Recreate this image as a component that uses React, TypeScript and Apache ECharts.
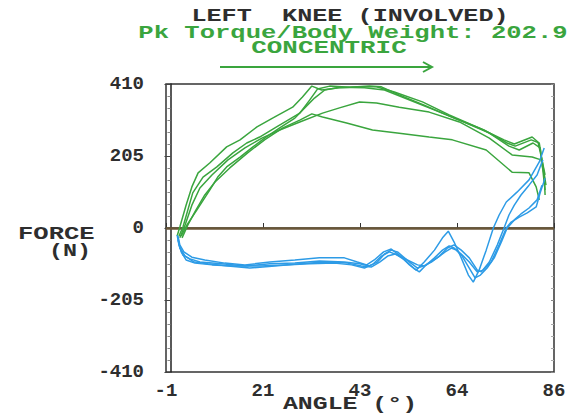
import React, { useEffect, useRef } from "react";
import * as echarts from "echarts";

// ---- axes ----
const angleMin = -1;
const angleMax = 86;
const angleTickLabels = [-1, 21, 43, 64, 86];
const forceMin = -410;
const forceMax = 410;
const forceStep = 205;

// ---- texts ----
const titleLine = "LEFT  KNEE (INVOLVED)";
const peakLine = "Pk Torque/Body Weight: 202.9";
const modeLine = "CONCENTRIC";
const yName1 = "FORCE";
const yName2 = "(N)";
const xName = "ANGLE (°)";

// ---- concentric (positive) force curves: [angle, force] ----
const ext1 = [[1.5,-23],[2.1,3],[3.5,65],[4.8,117],[6.2,157],[8.8,185],[12.6,231],[15.6,251],[19.4,288],[22.9,313],[27.4,344],[29.6,373],[31.7,404],[33.9,393],[37.9,399],[42.4,402],[46.2,402],[50.2,387],[56.5,359],[62.5,322],[69.2,285],[74.8,251],[77.1,239],[81.1,259],[82.4,245],[83.3,194],[84.0,151]];
const ext2 = [[1.9,-23],[2.8,3],[5.0,100],[7.3,145],[10.4,174],[14.0,214],[17.1,242],[20.0,259],[23.8,288],[29.0,327],[31.2,364],[33.0,396],[35.7,404],[40.2,401],[44.6,404],[47.3,402],[51.3,379],[56.9,350],[63.6,313],[70.3,279],[75.5,242],[77.3,233],[80.9,251],[82.7,242],[83.5,179],[84.2,122]];
const ext3 = [[2.4,-23],[3.7,9],[5.9,51],[8.8,108],[10.6,145],[12.6,174],[15.6,202],[18.5,231],[21.1,256],[24.5,285],[27.9,313],[30.1,342],[32.3,370],[34.6,393],[37.9,401],[43.5,399],[48.0,393],[52.5,370],[58.0,342],[64.8,307],[71.5,270],[75.9,233],[78.2,222],[81.3,242],[82.9,228],[83.5,165],[84.0,108]];
const ext4 = [[2.1,-28],[3.3,9],[4.8,65],[6.6,114],[9.3,151],[12.9,194],[16.7,228],[20.5,256],[24.5,279],[29.0,302],[34.1,327],[37.9,342],[42.4,359],[46.2,356],[51.3,344],[58.0,330],[64.8,302],[71.5,256],[76.6,208],[81.1,202],[83.1,194],[83.8,151],[84.0,94]];
const ext5 = [[2.6,-28],[3.9,9],[5.7,51],[7.7,94],[10.0,131],[13.3,171],[17.3,214],[21.1,251],[25.2,285],[29.0,307],[31.7,325],[34.1,316],[39.5,299],[45.3,279],[51.3,270],[58.0,259],[63.2,251],[70.8,222],[76.6,159],[80.4,157],[82.0,117],[82.7,80]];

// ---- return (negative) force curves: [angle, force] ----
const ret1 = [[83.8,228],[82.7,188],[80.4,137],[77.7,102],[75.3,74],[73.7,37],[72.4,0],[70.8,-63],[69.2,-120],[67.9,-154],[66.8,-134],[65.2,-85],[63.6,-40],[62.3,-9],[61.0,-28],[59.2,-63],[56.9,-97],[55.1,-120],[53.6,-105],[51.3,-77],[49.5,-60],[47.8,-68],[45.7,-91],[44.0,-105],[41.9,-97],[39.0,-85],[33.4,-85],[27.9,-91],[22.3,-97],[16.7,-105],[12.2,-100],[7.7,-91],[4.8,-83],[3.0,-68],[2.1,-48],[1.7,-23]];
const ret2 = [[84.0,142],[82.9,100],[82.0,60],[80.0,43],[78.2,31],[76.4,17],[75.3,0],[73.7,-48],[71.9,-97],[70.1,-120],[68.8,-125],[67.0,-97],[65.2,-74],[63.6,-57],[62.5,-51],[61.0,-63],[59.2,-85],[57.4,-105],[55.4,-114],[53.6,-97],[50.9,-68],[49.5,-63],[48.0,-74],[46.4,-97],[44.6,-108],[42.4,-102],[39.0,-97],[33.4,-94],[27.9,-100],[22.3,-102],[16.7,-108],[11.5,-102],[6.6,-97],[4.4,-88],[2.8,-77],[1.9,-48],[1.5,-20]];
const ret3 = [[83.5,194],[82.2,151],[80.4,122],[78.6,94],[77.1,65],[75.9,37],[74.8,0],[73.3,-48],[71.5,-97],[69.7,-125],[68.8,-120],[67.0,-85],[65.2,-63],[63.6,-48],[62.1,-57],[60.3,-80],[58.5,-97],[56.9,-108],[55.4,-105],[53.1,-91],[50.9,-77],[49.1,-68],[47.3,-80],[45.5,-102],[43.5,-114],[40.6,-105],[36.8,-100],[31.2,-102],[25.6,-105],[20.0,-108],[14.4,-108],[9.3,-105],[5.5,-100],[3.5,-91],[2.4,-68],[1.7,-34]];
const ret4 = [[83.3,122],[82.2,80],[80.4,57],[78.6,40],[77.1,23],[75.5,0],[74.2,-40],[72.6,-85],[71.0,-114],[69.5,-134],[68.3,-142],[67.0,-114],[65.4,-80],[64.1,-63],[63.0,-57],[61.6,-68],[59.8,-85],[57.6,-102],[55.8,-125],[54.5,-114],[52.5,-91],[50.4,-74],[48.7,-80],[46.9,-97],[45.1,-111],[42.8,-108],[39.7,-100],[34.6,-97],[29.0,-102],[23.4,-108],[17.8,-114],[12.9,-108],[8.4,-102],[5.3,-97],[3.3,-80],[2.1,-57],[1.7,-28]];

const extCurves = [ext1, ext2, ext3, ext4, ext5];
const retCurves = [ret1, ret2, ret3, ret4];

const GREEN = "#3aa53e";
const BLUE = "#2d9be6";
const INK = "#2e2e2e";
const FONT = "Liberation Mono";

export default function App() {
  const ref = useRef<HTMLDivElement>(null);

  useEffect(() => {
    if (!ref.current) return;
    const chart = echarts.init(ref.current, null, { renderer: "svg" });
    const xStep = (angleMax - angleMin) / (angleTickLabels.length - 1);

    const txt = (text: string, x: number, y: number, fill: string, align: string, sx: number) => ({
      type: "text",
      x,
      y,
      scaleX: sx,
      silent: true,
      style: {
        text,
        fill,
        fontFamily: FONT,
        fontWeight: "bold",
        fontSize: 18,
        textAlign: align,
        textVerticalAlign: "middle",
      },
    });

    const series: any[] = [];
    extCurves.forEach((d, i) => {
      series.push({
        type: "line",
        data: d,
        symbol: "none",
        lineStyle: { color: GREEN, width: 1.5 },
        z: 3,
        ...(i === 0
          ? {
              markLine: {
                silent: true,
                symbol: "none",
                label: { show: false },
                lineStyle: { color: "#6a5638", width: 2.5, type: "solid" },
                data: [{ yAxis: 0 }],
                z: 1,
              },
            }
          : {}),
      });
    });
    retCurves.forEach((d) => {
      series.push({
        type: "line",
        data: d,
        symbol: "none",
        lineStyle: { color: BLUE, width: 1.5 },
        z: 3,
      });
    });

    chart.setOption({
      animation: false,
      backgroundColor: "#ffffff",
      grid: {
        left: 166,
        right: 19,
        top: 84,
        bottom: 45,
        show: true,
        borderColor: "#333333",
        borderWidth: 1.5,
        backgroundColor: "transparent",
      },
      xAxis: {
        type: "value",
        min: angleMin,
        max: angleMax,
        interval: xStep,
        axisLine: { show: true, lineStyle: { color: "#2f3a2f", width: 1.5 } },
        axisTick: { show: true, inside: true, length: 5, lineStyle: { color: "#333" } },
        splitLine: { show: false },
        axisLabel: {
          margin: 9,
          color: INK,
          fontFamily: FONT,
          fontWeight: "bold",
          fontSize: 19,
          formatter: (v: number) => {
            const i = Math.round((v - angleMin) / xStep);
            return angleTickLabels[i] !== undefined ? String(angleTickLabels[i]) : "";
          },
        },
      },
      yAxis: [
        {
          type: "value",
          min: forceMin,
          max: forceMax,
          interval: forceStep,
          axisLine: { show: true, lineStyle: { color: "#222", width: 1.5 } },
          axisTick: { show: true, length: 6, lineStyle: { color: "#444" } },
          minorTick: { show: true, splitNumber: 6, length: 3, lineStyle: { color: "#888" } },
          splitLine: { show: false },
          axisLabel: {
            margin: 22,
            color: INK,
            fontFamily: FONT,
            fontWeight: "bold",
            fontSize: 19,
          },
        },
        {
          type: "value",
          position: "right",
          min: forceMin,
          max: forceMax,
          interval: forceStep,
          axisLine: { show: false },
          axisTick: { show: true, inside: true, length: 3, lineStyle: { color: "#888" } },
          minorTick: { show: true, splitNumber: 6, length: 3, lineStyle: { color: "#aaa" } },
          splitLine: { show: false },
          axisLabel: { show: false },
        },
      ],
      series,
      graphic: [
        txt(titleLine, 350, 16, INK, "center", 1.4),
        txt(peakLine, 353, 34, GREEN, "center", 1.42),
        txt(modeLine, 329, 48, GREEN, "center", 1.44),
        txt(yName1, 18, 235, INK, "left", 1.42),
        txt(yName2, 49, 251, INK, "left", 1.3),
        txt(xName, 350, 404, INK, "center", 1.38),
        {
          type: "line",
          silent: true,
          shape: { x1: 220, y1: 67, x2: 431, y2: 67 },
          style: { stroke: GREEN, lineWidth: 2 },
        },
        {
          type: "polyline",
          silent: true,
          shape: { points: [[423, 62], [432, 67], [423, 72]] },
          style: { stroke: GREEN, lineWidth: 2, fill: "none" },
        },
      ],
    });

    return () => chart.dispose();
  }, []);

  return (
    <div
      ref={ref}
      style={{ position: "fixed", left: 0, top: 0, width: 573, height: 417 }}
    />
  );
}
